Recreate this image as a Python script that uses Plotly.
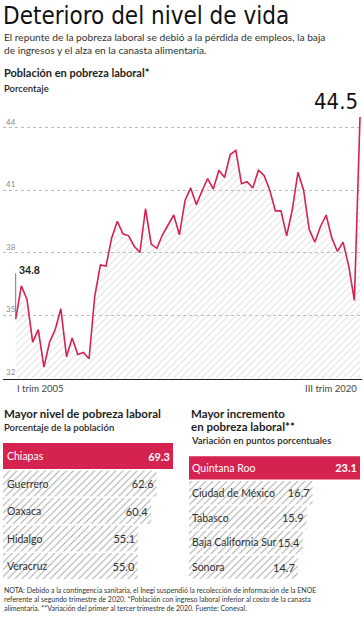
import plotly.graph_objects as go

W, H = 364, 620
RED = "#d6224f"
DARK = "#1e1e1e"
BODY = "Lato, 'Open Sans', sans-serif"
COND = "'Liberation Sans Narrow', 'DejaVu Sans Condensed', 'Roboto Condensed', Roboto, sans-serif"

# ---------------- data ----------------
quarters = [f"{r} trim {y}" for y in range(2005, 2021) for r in ["I", "II", "III", "IV"]]
quarters = [q for q in quarters if q not in ("II trim 2020", "IV trim 2020")]

pobreza = [34.8, 36.4, 35.75, 33.7, 34.3, 32.5, 33.7, 34.3, 35.3, 33.0,
           33.9, 33.1, 33.2, 32.9, 35.9, 37.4, 37.35, 38.7, 39.5, 38.9,
           38.8, 38.3, 38.0, 40.1, 38.4, 38.2, 38.85, 39.3, 39.8, 38.85,
           40.5, 41.1, 40.3, 40.95, 41.55, 41.05, 41.95, 41.6, 42.7, 42.9,
           41.3, 41.4, 41.1, 41.95, 41.7, 41.0, 40.0, 40.0, 38.8, 40.05,
           41.85, 41.0, 39.1, 38.5, 39.25, 39.8, 38.7, 38.05, 38.5, 37.35,
           35.7, 44.5]
y_ticks = [32, 35, 38, 41, 44]

estados_nivel = ["Chiapas", "Guerrero", "Oaxaca", "Hidalgo", "Veracruz"]
nivel = [69.3, 62.6, 60.4, 55.1, 55.0]

estados_inc = ["Quintana Roo", "Ciudad de México", "Tabasco", "Baja California Sur", "Sonora"]
incremento = [23.1, 16.7, 15.9, 15.4, 14.7]


def px(x):
    return x / W


def py(y):
    return 1 - y / H


HATCH = dict(fgcolor="#bdbdbd", size=5, solidity=0.2)

fig = go.Figure()

# ---------------- line chart ----------------
fig.add_trace(go.Scatter(
    x=quarters, y=pobreza, mode="lines",
    line=dict(color=RED, width=1.6),
    fill="tozeroy", fillcolor="rgba(0,0,0,0)",
    fillpattern=dict(shape="/", bgcolor="rgba(255,255,255,0)", **HATCH),
    hoverinfo="skip", xaxis="x", yaxis="y",
))

# ---------------- bar charts ----------------
for xs, ys, xa, ya in [(nivel, estados_nivel, "x2", "y2"), (incremento, estados_inc, "x3", "y3")]:
    fig.add_trace(go.Bar(
        x=xs, y=ys, orientation="h", xaxis=xa, yaxis=ya,
        marker=dict(color=[RED] + ["white"] * 4, line=dict(width=0),
                    pattern=dict(shape=[""] + ["/"] * 4, fgcolor="#c6c6c6", size=5, solidity=0.18)),
        text=[f"<b>{xs[0]:.1f}</b>"] + [f"{v:.1f}" for v in xs[1:]],
        textposition="inside", insidetextanchor="end",
        textfont=dict(family=BODY, size=11, color=["white"] + ["#333"] * 4),
        cliponaxis=False, hoverinfo="skip",
    ))

# line chart axis geometry (pixels)
top_px, bot_px = 110, 378.5
ppu = 250 / 12.0
y_lo = 32 - (bot_px - 377.5) / ppu
y_hi = 44 + (127.5 - top_px) / ppu

fig.update_layout(
    width=W, height=H, margin=dict(l=0, r=0, t=0, b=0),
    paper_bgcolor="white", plot_bgcolor="rgba(0,0,0,0)",
    showlegend=False, bargap=0.06,
    font=dict(family=BODY, color=DARK),
    xaxis=dict(type="category", domain=[px(3), px(362)], range=[-2.25, 61.35],
               showline=True, linecolor="#1e1e1e", linewidth=1.6, showgrid=False,
               showticklabels=False, ticks="", zeroline=False, anchor="y", fixedrange=True),
    yaxis=dict(domain=[py(bot_px), py(top_px)], range=[y_lo, y_hi], tickvals=y_ticks,
               ticklabelposition="inside top", tickfont=dict(size=8, color="#8a8a8a", family=BODY),
               showgrid=True, gridcolor="#bcbcbc", griddash="dot", gridwidth=1,
               zeroline=False, showline=False, ticks="", anchor="x", fixedrange=True),
    xaxis2=dict(domain=[px(3), px(173)], range=[0, 69.3], visible=False, anchor="y2", fixedrange=True),
    yaxis2=dict(domain=[py(579.75), py(442.25)], type="category", autorange="reversed",
                visible=False, anchor="x2", fixedrange=True),
    xaxis3=dict(domain=[px(189), px(360)], range=[0, 23.1], visible=False, anchor="y3", fixedrange=True),
    yaxis3=dict(domain=[py(579.4), py(455.6)], type="category", autorange="reversed",
                visible=False, anchor="x3", fixedrange=True),
)

ann = []


def txt(x, y, s, size, color=DARK, weight="normal", family=BODY, xanchor="left"):
    ann.append(dict(x=px(x), y=py(y), xref="paper", yref="paper", text=s, showarrow=False,
                    xanchor=xanchor, yanchor="middle",
                    font=dict(size=size, color=color, family=family, weight=weight)))


txt(1, 16, "Deterioro del nivel de vida", 24, color="#111", family=COND)
txt(2, 37, "El repunte de la pobreza laboral se debió a la pérdida de empleos, la baja", 10.2, color="#333")
txt(2, 50, "de ingresos y el alza en la canasta alimentaria.", 10.2, color="#333")
txt(2, 73, "Población en pobreza laboral*", 11, weight="bold")
txt(2, 88, "Porcentaje", 9.5, weight=600)

txt(2, 413, "Mayor nivel de pobreza laboral", 11.5, weight="bold")
txt(2, 427, "Porcentaje de la población", 9.5, weight=600)
txt(189, 413, "Mayor incremento", 11.5, weight="bold")
txt(189, 426, "en pobreza laboral**", 11.5, weight="bold")
txt(189, 440, "Variación en puntos porcentuales", 9.5, weight=600)

txt(2, 590, "NOTA: Debido a la contingencia sanitaria, el Inegi suspendió la recolección de información de la ENOE", 7, color="#333")
txt(2, 599, "referente al segundo trimestre de 2020. *Población con ingreso laboral inferior al costo de la canasta", 7, color="#333")
txt(2, 608, "alimentaria. **Variación del primer al tercer trimestre de 2020. Fuente: Coneval.", 7, color="#333")

# x labels
ann.append(dict(x=quarters[0], xref="x", y=py(388), yref="paper", text="I trim 2005",
                showarrow=False, xanchor="left", yanchor="middle", xshift=-1,
                font=dict(size=9.5, color="#444", family=BODY)))
ann.append(dict(x=quarters[-1], xref="x", y=py(388), yref="paper", text="III trim 2020",
                showarrow=False, xanchor="right", yanchor="middle", xshift=-1,
                font=dict(size=9.5, color="#444", family=BODY)))

# value callouts
ann.append(dict(x=quarters[-1], xref="x", y=pobreza[-1], yref="y", text=f"{pobreza[-1]:.1f}",
                showarrow=False, xanchor="right", yanchor="bottom", xshift=0, yshift=1,
                font=dict(size=22, color="#111", family=COND)))
ann.append(dict(x=quarters[0], xref="x", y=pobreza[0], yref="y", text=f"<b>{pobreza[0]:.1f}</b>",
                showarrow=False, xanchor="left", yanchor="bottom", xshift=1, yshift=41,
                font=dict(size=10.5, color="#222", family=BODY)))

# state names inside bars
for i, e in enumerate(estados_nivel):
    ann.append(dict(x=0, xref="x2", y=e, yref="y2", text=e, showarrow=False,
                    xanchor="left", yanchor="middle", xshift=2,
                    font=dict(size=10.5, color="white" if i == 0 else "#333", family=BODY)))
for i, e in enumerate(estados_inc):
    ann.append(dict(x=0, xref="x3", y=e, yref="y3", text=e, showarrow=False,
                    xanchor="left", yanchor="middle", xshift=1,
                    font=dict(size=10.5, color="white" if i == 0 else "#333", family=BODY)))

fig.update_layout(annotations=ann)

# leader line for first value
fig.add_shape(type="line", xref="x", yref="y", x0=quarters[0], x1=quarters[0],
              y0=pobreza[0], y1=pobreza[0] + 2.2, line=dict(color="#777", width=1))

fig.write_html("out.html", config={"displayModeBar": False, "staticPlot": True},
               post_script="document.body.style.margin='0';document.body.style.overflow='hidden';")
